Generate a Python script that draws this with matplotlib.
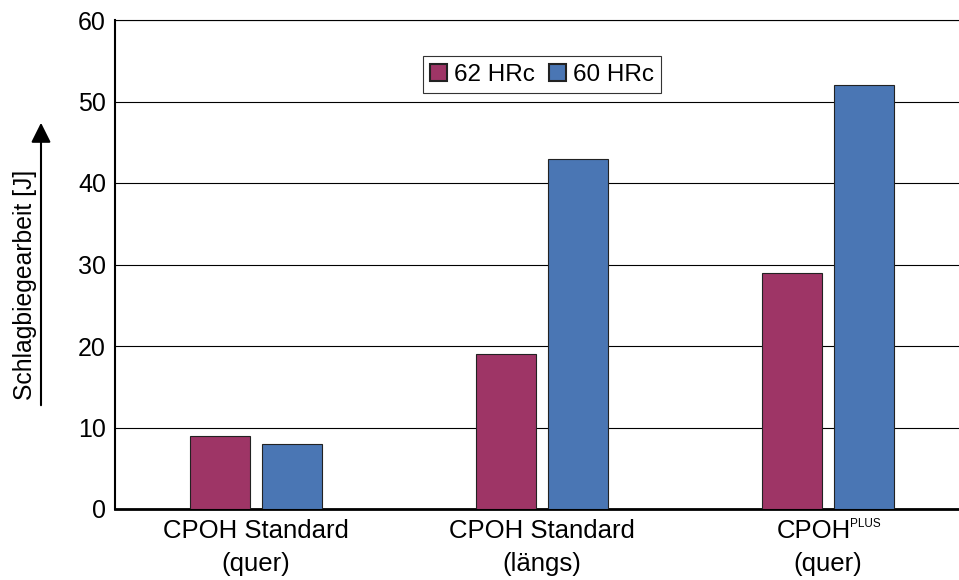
import numpy as np
import matplotlib
matplotlib.use("Agg")
from matplotlib import pyplot as plt
from matplotlib.patches import FancyArrowPatch

plt.rcParams['font.family'] = ['Liberation Sans', 'DejaVu Sans']

# Data
cat_line1 = ["CPOH Standard", "CPOH Standard", "CPOH"]
cat_sup = ["", "", "PLUS"]
cat_line2 = ["(quer)", "(längs)", "(quer)"]
series_names = ["62 HRc", "60 HRc"]
hrc62 = [9, 19, 29]
hrc60 = [8, 43, 52]
yticks = [0, 10, 20, 30, 40, 50, 60]

colors = ["#9E3566", "#4A76B4"]

fig = plt.figure(figsize=(9.59, 5.8), dpi=100)
ax = fig.add_axes([115 / 959, 1 - 509 / 580, 844 / 959, 489 / 580])

x = np.arange(len(cat_line1))
w = 0.21
off = 0.126
ax.bar(x - off, hrc62, width=w, color=colors[0], edgecolor="#222222", linewidth=0.8,
       label=series_names[0], zorder=3)
ax.bar(x + off, hrc60, width=w, color=colors[1], edgecolor="#222222", linewidth=0.8,
       label=series_names[1], zorder=3)

ax.set_xlim(-0.493, 2.458)
ax.set_ylim(0, 60)
ax.set_yticks(yticks)
ax.yaxis.grid(True, color="black", linewidth=0.8, zorder=0)
ax.tick_params(axis='y', labelsize=18, length=0, pad=6.5)
ax.set_xticks(x)
ax.set_xticklabels([])
ax.tick_params(axis='x', length=0)

# category labels (two lines, superscript on the third)
for i in range(len(x)):
    shift = -10 if cat_sup[i] else 0
    ax.annotate(cat_line1[i], xy=(x[i], 0), xycoords=('data', 'axes fraction'),
                xytext=(shift, -20.9), textcoords='offset points',
                ha='center', va='baseline', fontsize=18.5)
    if cat_sup[i]:
        ax.annotate(cat_sup[i], xy=(x[i], 0), xycoords=('data', 'axes fraction'),
                    xytext=(shift + 26, -13), textcoords='offset points',
                    ha='left', va='baseline', fontsize=8.5)
    ax.annotate(cat_line2[i], xy=(x[i], 0), xycoords=('data', 'axes fraction'),
                xytext=(0, -44.5), textcoords='offset points',
                ha='center', va='baseline', fontsize=18.5)

ax.spines['right'].set_visible(False)
ax.spines['top'].set_linewidth(0.8)
ax.spines['left'].set_linewidth(1.5)
ax.spines['bottom'].set_linewidth(2)

leg = ax.legend(loc='center', bbox_to_anchor=(0.506, 0.888), ncol=2, fontsize=17.5,
                frameon=True, fancybox=False, edgecolor="#333333", framealpha=1,
                handlelength=0.7, handleheight=0.7, handletextpad=0.3,
                columnspacing=0.55, borderpad=0.3)
leg.get_frame().set_linewidth(0.8)
for h in leg.legend_handles:
    h.set_edgecolor("#222222")
    h.set_linewidth(1.5)

# y label with arrow
fig.text(25 / 959, 1 - 285 / 580, "Schlagbiegearbeit [J]", rotation=90,
         ha='center', va='center', fontsize=17.8)
fig.patches.append(FancyArrowPatch(
    (41 / 959, 1 - 408 / 580), (41 / 959, 1 - 120 / 580),
    transform=fig.transFigure, arrowstyle='-|>,head_length=8,head_width=4',
    mutation_scale=1.5, color='black', linewidth=1.5))

fig.savefig("out.png", dpi=100)
